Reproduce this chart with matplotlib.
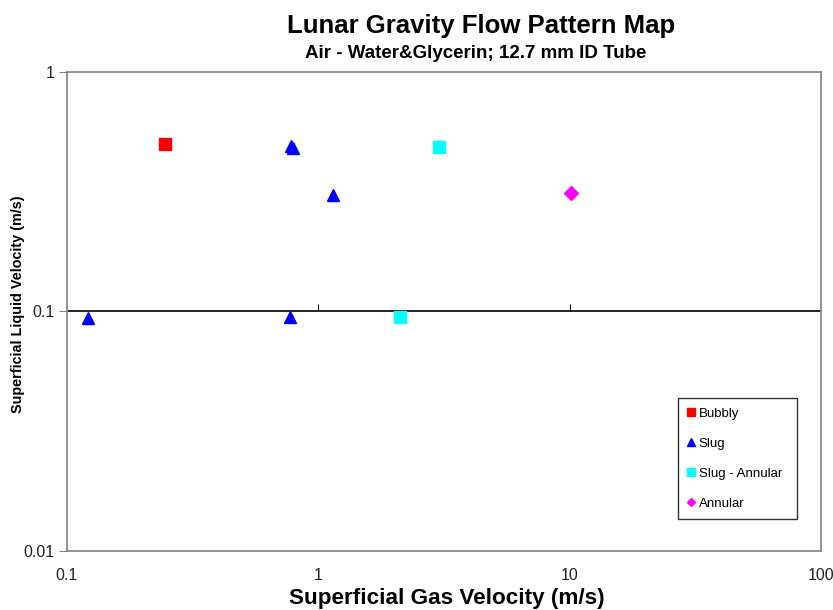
import matplotlib
matplotlib.use("Agg")
import matplotlib.pyplot as plt

plt.rcParams['font.family'] = ['Liberation Sans', 'DejaVu Sans']

# data (log-log)
bubbly_x = [0.245]
bubbly_y = [0.50]
slug_x = [0.78, 0.79, 1.14, 0.775, 0.121]
slug_y = [0.49, 0.48, 0.306, 0.095, 0.094]
slug_ann_x = [3.03, 2.12]
slug_ann_y = [0.486, 0.095]
annular_x = [10.1]
annular_y = [0.312]

x_ticks = [0.1, 1, 10, 100]
x_labels = ['0.1', '1', '10', '100']
y_ticks = [0.01, 0.1, 1]
y_labels = ['0.01', '0.1', '1']

fig = plt.figure(figsize=(8.33, 6.10), dpi=100)
ax = fig.add_axes([0.0804, 0.0967, 0.9052, 0.7853])
ax.set_xscale('log')
ax.set_yscale('log')
ax.set_xlim(0.1, 100)
ax.set_ylim(0.01, 1)

# x axis crosses at 0.1 with small upward ticks
ax.axhline(0.1, color='black', lw=1.2, zorder=1)
ax.plot([1, 10], [0.1, 0.1], ls='none', marker=2, ms=5, mew=0.8, color='black', zorder=1)

ax.plot(bubbly_x, bubbly_y, ls='none', marker='s', ms=8.5, color='#ff0000', label='Bubbly', zorder=3)
ax.plot(slug_x, slug_y, ls='none', marker='^', ms=9, color='#0000ff', label='Slug', zorder=3)
ax.plot(slug_ann_x, slug_ann_y, ls='none', marker='s', ms=8.5, color='#00ffff', label='Slug - Annular', zorder=3)
ax.plot(annular_x, annular_y, ls='none', marker='D', ms=7, color='#ff00ff', label='Annular', zorder=3)

for s in ax.spines.values():
    s.set_color('#808080')
    s.set_linewidth(1.2)

ax.set_xticks(x_ticks)
ax.set_xticklabels(x_labels)
ax.set_yticks(y_ticks)
ax.set_yticklabels(y_labels)
ax.minorticks_off()
ax.tick_params(axis='x', length=0, pad=12, labelsize=11.5, labelcolor='#222222')
ax.tick_params(axis='y', length=6, color='#808080', labelsize=11.5, pad=3, labelcolor='#222222')

fig.text(0.536, 0.019, 'Superficial Gas Velocity (m/s)', ha='center', va='center',
         fontsize=16.2, fontweight='bold')
fig.text(0.022, 0.501, 'Superficial Liquid Velocity (m/s)', ha='center', va='center',
         rotation=90, fontsize=10.4, fontweight='bold')

fig.text(0.577, 0.958, 'Lunar Gravity Flow Pattern Map', ha='center', va='center',
         fontsize=18.5, fontweight='bold')
fig.text(0.571, 0.913, 'Air - Water&Glycerin; 12.7 mm ID Tube', ha='center', va='center',
         fontsize=13.5, fontweight='bold')

leg = ax.legend(loc='lower left', bbox_to_anchor=(0.81, 0.067, 0.158, 0.254), mode='expand',
                fontsize=9.5, frameon=True, fancybox=False, labelspacing=1.35,
                handlelength=0.6, handletextpad=0.3, borderpad=0.7, markerscale=0.6,
                borderaxespad=0)
leg.get_frame().set_edgecolor('black')
leg.get_frame().set_linewidth(1.0)

fig.savefig('out.png', dpi=100)
